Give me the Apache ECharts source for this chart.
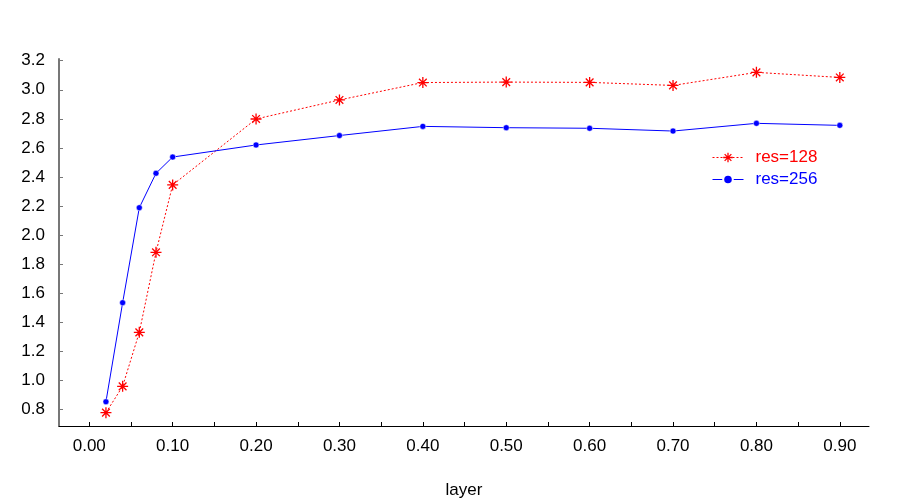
<!DOCTYPE html>
<html>
<head>
<meta charset="utf-8">
<script src="https://cdn.jsdelivr.net/npm/echarts@6/dist/echarts.min.js"></script>
<style>html,body{margin:0;padding:0;background:#fff}#c{width:900px;height:500px}</style>
</head>
<body>
<div id="c"></div>
<script>
const xValues = [0.02, 0.04, 0.06, 0.08, 0.10, 0.20, 0.30, 0.40, 0.50, 0.60, 0.70, 0.80, 0.90];
const res128 = [0.777, 0.958, 1.330, 1.881, 2.345, 2.799, 2.930, 3.050, 3.053, 3.051, 3.030, 3.120, 3.085];
const res256 = [0.852, 1.534, 2.188, 2.425, 2.537, 2.620, 2.685, 2.748, 2.739, 2.735, 2.716, 2.769, 2.755];
const xTickLabels = [0.00, 0.10, 0.20, 0.30, 0.40, 0.50, 0.60, 0.70, 0.80, 0.90];
const xTicks = [0.00, 0.05, 0.10, 0.15, 0.20, 0.25, 0.30, 0.35, 0.40, 0.45, 0.50, 0.55, 0.60, 0.65, 0.70, 0.75, 0.80, 0.85, 0.90];
const yTicks = [0.8, 1.0, 1.2, 1.4, 1.6, 1.8, 2.0, 2.2, 2.4, 2.6, 2.8, 3.0, 3.2];

const star = 'path://M0,5 L10,5 M5,0 L5,10 M1.5,1.5 L8.5,8.5 M8.5,1.5 L1.5,8.5';
const font = 'Liberation Sans';
const chart = echarts.init(document.getElementById('c'));
chart.setOption({
  animation: false,
  textStyle: { fontFamily: font },
  grid: { left: 59, right: 31, top: 59, bottom: 74, outerBoundsMode: 'none', containLabel: false },
  legend: {
    orient: 'vertical',
    left: 707, top: 144,
    itemWidth: 31, itemHeight: 12, itemGap: 5,
    textStyle: { fontSize: 17, fontFamily: font, padding: [0, 0, 0, 7] },
    data: [
      { name: 'res=128', textStyle: { color: '#ff0000' }, lineStyle: { width: 1 },
        itemStyle: { color: '#ff0000', borderColor: '#ff0000', borderWidth: 1.3 } },
      { name: 'res=256', textStyle: { color: '#0000ff' }, lineStyle: { width: 1 } }
    ]
  },
  xAxis: {
    type: 'value',
    min: -0.0363, max: 0.935,
    name: 'layer', nameLocation: 'middle', nameGap: 56,
    nameTextStyle: { fontSize: 17, color: '#000', fontFamily: font },
    axisLine: { show: true, onZero: false, lineStyle: { color: '#000', width: 1 } },
    axisTick: { show: true, inside: true, length: 4, customValues: xTicks, lineStyle: { color: '#000' } },
    axisLabel: { customValues: xTickLabels, fontSize: 17, color: '#000', margin: 12, formatter: v => v.toFixed(2) },
    splitLine: { show: false }
  },
  yAxis: {
    type: 'value',
    min: 0.685, max: 3.212,
    axisLine: { show: true, onZero: false, lineStyle: { color: '#777', width: 2 } },
    axisTick: { show: true, inside: true, length: 4, customValues: yTicks, lineStyle: { color: '#777' } },
    axisLabel: { customValues: yTicks, fontSize: 17, color: '#000', margin: 14, formatter: v => v.toFixed(1) },
    splitLine: { show: false }
  },
  series: [
    {
      name: 'res=128', type: 'line',
      data: xValues.map((x, i) => [x, res128[i]]),
      symbol: star, symbolSize: 11,
      lineStyle: { color: '#ff0000', width: 1, type: [2, 2] },
      itemStyle: { color: '#ff0000', borderColor: '#ff0000', borderWidth: 1.3 },
      z: 2
    },
    {
      name: 'res=256', type: 'line',
      data: xValues.map((x, i) => [x, res256[i]]),
      symbol: 'circle', symbolSize: 6,
      lineStyle: { color: '#0000ff', width: 1 },
      itemStyle: { color: '#0000ff', borderColor: '#fff', borderWidth: 0.5 },
      z: 3
    }
  ]
});
</script>
</body>
</html>
